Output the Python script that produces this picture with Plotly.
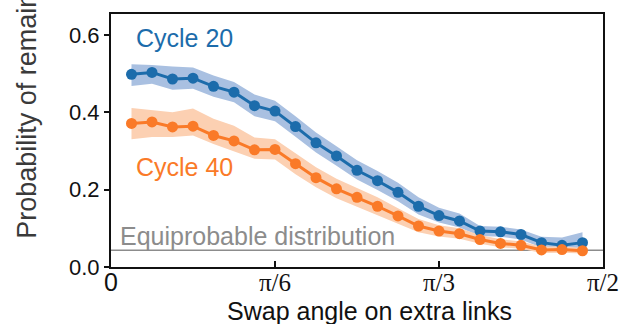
import numpy as np
import plotly.graph_objects as go

# Swap angle grid: k * pi/48, k = 1..23
angle_steps = list(range(1, 24))
angles = [k * np.pi / 48 for k in angle_steps]

# Cycle 20: mean and shaded band
cycle20 = [0.498, 0.503, 0.486, 0.488, 0.467, 0.452, 0.417, 0.403, 0.363, 0.321, 0.287, 0.250,
           0.223, 0.193, 0.157, 0.133, 0.119, 0.093, 0.091, 0.084, 0.063, 0.056, 0.063]
cycle20_hi = [0.524, 0.522, 0.518, 0.516, 0.495, 0.478, 0.446, 0.430, 0.390, 0.348, 0.312, 0.276,
              0.248, 0.218, 0.180, 0.153, 0.138, 0.106, 0.104, 0.097, 0.078, 0.076, 0.090]
cycle20_lo = [0.468, 0.474, 0.458, 0.461, 0.440, 0.426, 0.390, 0.377, 0.337, 0.296, 0.262, 0.226,
              0.199, 0.170, 0.136, 0.115, 0.102, 0.080, 0.078, 0.071, 0.050, 0.046, 0.048]

# Cycle 40: mean and shaded band
cycle40 = [0.371, 0.375, 0.362, 0.364, 0.340, 0.326, 0.303, 0.304, 0.267, 0.231, 0.202, 0.180,
           0.157, 0.132, 0.106, 0.093, 0.086, 0.071, 0.061, 0.056, 0.044, 0.045, 0.042]
cycle40_hi = [0.411, 0.406, 0.400, 0.410, 0.383, 0.365, 0.335, 0.330, 0.295, 0.258, 0.228, 0.205,
              0.180, 0.152, 0.124, 0.108, 0.100, 0.083, 0.072, 0.066, 0.053, 0.053, 0.050]
cycle40_lo = [0.330, 0.336, 0.336, 0.340, 0.318, 0.300, 0.280, 0.278, 0.240, 0.206, 0.178, 0.156,
              0.135, 0.112, 0.090, 0.079, 0.073, 0.060, 0.051, 0.047, 0.036, 0.037, 0.035]

# Uniform probability over 23 outcomes
equiprobable = 1 / 23

SANS = "Liberation Sans, Arial, sans-serif"
SERIF = "Liberation Serif, Times New Roman, serif"

x_tickvals = [0, np.pi / 6, np.pi / 3, np.pi / 2]
x_ticktext = [f'<span style="font-family:{SANS}">0</span>', "π/6", "π/3", "π/2"]
y_tickvals = [0.0, 0.2, 0.4, 0.6]
y_ticktext = ["0.0", "0.2", "0.4", "0.6"]

BLUE = "#1c6cab"
ORANGE = "#fa7a28"
BLUE_BAND = "#a9c0e1"
ORANGE_BAND = "#fcd0b2"
GRAY = "#8c8c8c"

fig = go.Figure()

for lo, hi, band_c in [
    (cycle20_lo, cycle20_hi, BLUE_BAND),
    (cycle40_lo, cycle40_hi, ORANGE_BAND),
]:
    fig.add_trace(go.Scatter(x=angles, y=lo, mode="lines", line=dict(width=0),
                             hoverinfo="skip", showlegend=False))
    fig.add_trace(go.Scatter(x=angles, y=hi, mode="lines", line=dict(width=0),
                             fill="tonexty", fillcolor=band_c, hoverinfo="skip", showlegend=False))

for mean, line_c in [(cycle20, BLUE), (cycle40, ORANGE)]:
    fig.add_trace(go.Scatter(x=angles, y=mean, mode="lines+markers",
                             line=dict(color=line_c, width=3),
                             marker=dict(color=line_c, size=11),
                             showlegend=False))

# Equiprobable reference level
fig.add_shape(type="line", xref="paper", yref="y", x0=0, x1=1,
              y0=equiprobable, y1=equiprobable,
              line=dict(color=GRAY, width=1.5), layer="below")

fig.add_annotation(x=0.073, y=0.592, xref="x", yref="y", text="Cycle 20",
                   showarrow=False, xanchor="left", yanchor="middle",
                   font=dict(family=SANS, size=25, color=BLUE))
fig.add_annotation(x=0.073, y=0.259, xref="x", yref="y", text="Cycle 40",
                   showarrow=False, xanchor="left", yanchor="middle",
                   font=dict(family=SANS, size=25, color=ORANGE))
fig.add_annotation(x=0.022, y=0.081, xref="x", yref="y", text="Equiprobable distribution",
                   showarrow=False, xanchor="left", yanchor="middle",
                   font=dict(family=SANS, size=25, color=GRAY))

# Axis titles
fig.add_annotation(x=0.525, y=-0.236, xref="paper", yref="paper",
                   text="Swap angle on extra links", showarrow=False,
                   xanchor="center", yanchor="bottom",
                   font=dict(family=SANS, size=25, color="#111111"))
fig.add_annotation(x=-0.170, y=0.105, xref="paper", yref="paper",
                   text="Probability of remaining", textangle=-90, showarrow=False,
                   xanchor="center", yanchor="bottom",
                   font=dict(family=SANS, size=27, color="#3a3a3a"))

fig.update_xaxes(range=[0, np.pi / 2], tickvals=x_tickvals, ticktext=x_ticktext,
                 tickfont=dict(family=SERIF, size=25, color="#111111"),
                 ticks="inside", ticklen=6, tickwidth=2, tickcolor="#111111",
                 ticklabelstandoff=-8,
                 showline=True, linecolor="#111111", linewidth=2, mirror=True,
                 showgrid=False, zeroline=False)
fig.update_yaxes(range=[0, 0.654], tickvals=y_tickvals, ticktext=y_ticktext,
                 tickfont=dict(family=SANS, size=22, color="#111111"),
                 ticks="outside", ticklen=5, tickwidth=2, tickcolor="#111111",
                 showline=True, linecolor="#111111", linewidth=2, mirror=True,
                 showgrid=False, zeroline=False)

fig.update_layout(width=631, height=324,
                  margin=dict(l=111, r=22, t=12, b=57),
                  plot_bgcolor="white", paper_bgcolor="white",
                  showlegend=False)

fig.write_html("out.html")
